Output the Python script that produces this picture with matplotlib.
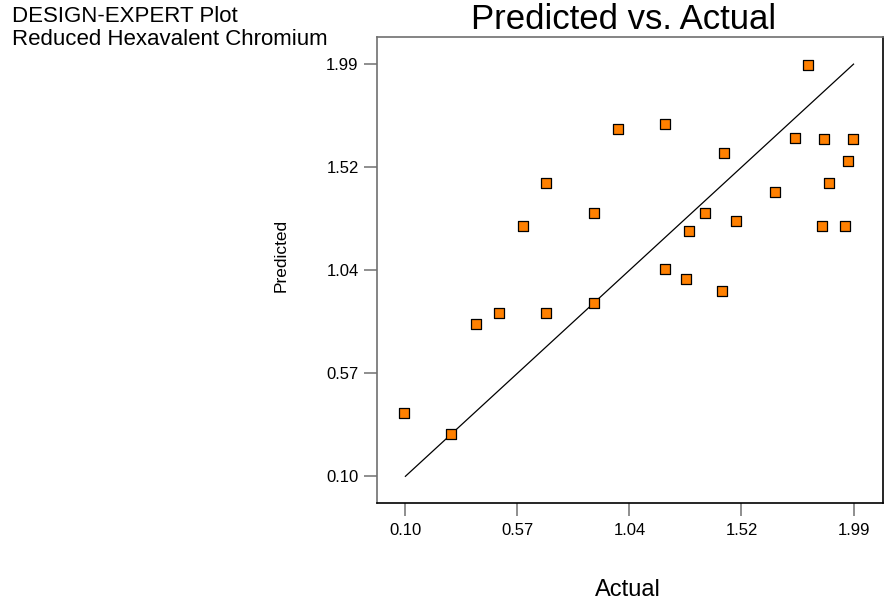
import numpy as np
import matplotlib
matplotlib.use("Agg")
import matplotlib.pyplot as plt

plt.rcParams['font.family'] = ['Liberation Sans', 'DejaVu Sans']

# actual vs predicted values
actual = [1.796, 0.995, 1.195, 1.445, 1.745, 1.866, 1.986, 1.967, 1.886,
          1.657, 0.695, 0.895, 1.365, 1.496, 1.296, 1.857, 1.956, 0.597,
          1.195, 1.285, 1.436, 0.895, 0.396, 0.494, 0.695, 0.093, 0.294]
predicted = [1.985, 1.693, 1.715, 1.584, 1.649, 1.645, 1.645, 1.545, 1.445,
             1.404, 1.446, 1.306, 1.307, 1.271, 1.225, 1.248, 1.249, 1.248,
             1.052, 1.005, 0.950, 0.895, 0.799, 0.848, 0.848, 0.390, 0.294]

tick_values = np.linspace(0.10, 1.99, 5)
tick_labels = ['0.10', '0.57', '1.04', '1.52', '1.99']
axis_min, axis_max = -0.021, 2.113

W, H = 888, 604
fig = plt.figure(figsize=(W / 100, H / 100), dpi=100)
ax = fig.add_axes([376.7 / W, 1 - 502.7 / H, 506 / W, 465.4 / H])

# 45 degree reference line
ax.plot([tick_values[0], tick_values[-1]], [tick_values[0], tick_values[-1]],
        color='black', lw=0.9, zorder=2)
ax.scatter(actual, predicted, marker='s', s=46, facecolor='#ff8000',
           edgecolor='black', linewidths=0.9, zorder=3)

ax.set_xlim(axis_min, axis_max)
ax.set_ylim(axis_min, axis_max)
ax.set_xticks(tick_values)
ax.set_xticklabels(tick_labels)
ax.set_yticks(tick_values)
ax.set_yticklabels(tick_labels)
ax.tick_params(direction='out', length=9.5, width=1.1, color='#707070',
               labelsize=12)
ax.tick_params(axis='y', pad=3.5)
ax.tick_params(axis='x', pad=5)

ax.spines['left'].set_color('#707070')
ax.spines['top'].set_color('#707070')
ax.spines['right'].set_color('black')
ax.spines['bottom'].set_color('black')
for sp in ax.spines.values():
    sp.set_linewidth(1.2)

fig.text(12 / W, 1 - 22 / H, 'DESIGN-EXPERT Plot', fontsize=16, va='baseline')
fig.text(12 / W, 1 - 45 / H, 'Reduced Hexavalent Chromium', fontsize=16,
         va='baseline')
fig.text(624 / W, 1 - 29 / H, 'Predicted vs. Actual', fontsize=25,
         ha='center', va='baseline')
fig.text(628 / W, 1 - 596 / H, 'Actual', fontsize=17, ha='center',
         va='baseline')
fig.text(281 / W, 1 - 255 / H, 'Predicted', fontsize=12.5, rotation=90,
         ha='center', va='center')

fig.savefig('out.png', dpi=100)
